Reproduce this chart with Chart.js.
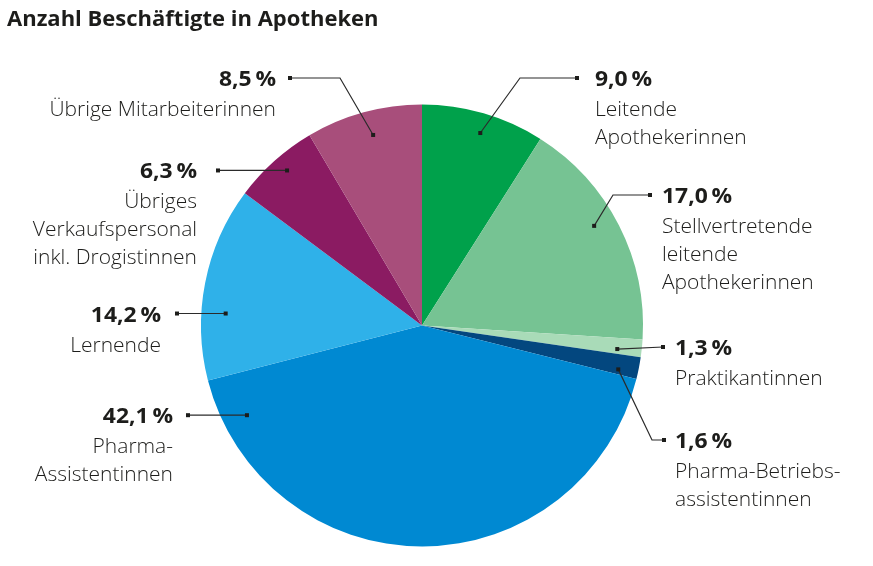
<!DOCTYPE html>
<html>
<head>
<meta charset="utf-8">
<script src="https://cdn.jsdelivr.net/npm/chart.js@4/dist/chart.umd.min.js"></script>
<style>
  html, body { margin: 0; padding: 0; background: #ffffff; }
  #wrap { position: relative; width: 873px; height: 566px; }
</style>
</head>
<body>
<div id="wrap"><canvas id="c" width="873" height="566"></canvas></div>
<script>
// ---- data ----
const title = 'Anzahl Beschäftigte in Apotheken';
const categories = [
  'Leitende Apothekerinnen',
  'Stellvertretende leitende Apothekerinnen',
  'Praktikantinnen',
  'Pharma-Betriebsassistentinnen',
  'Pharma-Assistentinnen',
  'Lernende',
  'Übriges Verkaufspersonal inkl. Drogistinnen',
  'Übrige Mitarbeiterinnen'
];
const shares = [9.0, 17.0, 1.3, 1.6, 42.1, 14.2, 6.3, 8.5];
const shareLabels = ['9,0\u2009%', '17,0\u2009%', '1,3\u2009%', '1,6\u2009%', '42,1\u2009%', '14,2\u2009%', '6,3\u2009%', '8,5\u2009%'];
const labelLines = [
  ['Leitende', 'Apothekerinnen'],
  ['Stellvertretende', 'leitende', 'Apothekerinnen'],
  ['Praktikantinnen'],
  ['Pharma-Betriebs-', 'assistentinnen'],
  ['Pharma-', 'Assistentinnen'],
  ['Lernende'],
  ['Übriges', 'Verkaufspersonal', 'inkl. Drogistinnen'],
  ['Übrige Mitarbeiterinnen']
];
const colors = ['#00a14b', '#76c393', '#a9dbb8', '#03477f', '#0089d2', '#2fb1e9', '#8b1b62', '#a84e7b'];

// ---- annotation layout (positions of labels / leader lines) ----
const layout = [
  { af: 0.52, rf: 0.91, pts: [[520, 78], [577, 78]], tx: 595, align: 'left' },
  { af: 0.45, rf: 0.90, pts: [[613, 195], [650, 195]], tx: 662, align: 'left' },
  { af: 0.70, rf: 0.89, pts: [[663, 347]], tx: 675, align: 'left' },
  { af: 0.75, rf: 0.91, pts: [[652, 440], [664, 440]], tx: 675, align: 'left' },
  { af: 0.916, rf: 0.89, pts: [[188, null]], tx: 173, align: 'right' },
  { af: 0.35, rf: 0.89, pts: [[177, null]], tx: 161, align: 'right' },
  { af: 0.54, rf: 0.93, pts: [[218, null]], tx: 197, align: 'right' },
  { af: 0.53, rf: 0.89, pts: [[340, 78], [290, 78]], tx: 276, align: 'right' }
];

const FONT = '"Open Sans", "Noto Sans", sans-serif';
const TEXT = '#1d1d1b';

function drawScaled(ctx, text, x, y, align, sx) {
  ctx.save();
  ctx.translate(x, y);
  ctx.scale(sx, 1);
  ctx.textAlign = align;
  ctx.fillText(text, 0, 0);
  ctx.restore();
}

const annotate = {
  id: 'annotate',
  afterDraw(chart) {
    const ctx = chart.ctx;
    ctx.save();
    // title
    ctx.fillStyle = TEXT;
    ctx.font = 'bold 22px ' + FONT;
    ctx.textBaseline = 'alphabetic';
    drawScaled(ctx, title, 7, 26, 'left', 1.0);

    const meta = chart.getDatasetMeta(0);
    meta.data.forEach((arc, i) => {
      const p = arc.getProps(['x', 'y', 'startAngle', 'endAngle', 'outerRadius'], true);
      const L = layout[i];
      const a = p.startAngle + (p.endAngle - p.startAngle) * L.af;
      const ax = p.x + Math.cos(a) * p.outerRadius * L.rf;
      const ay = p.y + Math.sin(a) * p.outerRadius * L.rf;
      const pts = [[ax, ay]].concat(L.pts.map(q => [q[0], q[1] === null ? ay : q[1]]));
      ctx.strokeStyle = '#2b2b2b';
      ctx.lineWidth = 1.2;
      ctx.beginPath();
      ctx.moveTo(pts[0][0], pts[0][1]);
      for (let k = 1; k < pts.length; k++) ctx.lineTo(pts[k][0], pts[k][1]);
      ctx.stroke();
      ctx.fillStyle = '#1d1d1b';
      const s = pts[0], e = pts[pts.length - 1];
      ctx.fillRect(s[0] - 2, s[1] - 2, 4, 4);
      ctx.fillRect(e[0] - 2, e[1] - 2, 4, 4);

      // texts
      const ty = e[1];
      ctx.fillStyle = TEXT;
      ctx.font = 'bold 22px ' + FONT;
      drawScaled(ctx, shareLabels[i], L.tx, ty + 8, L.align, 1.04);
      ctx.font = '300 21px ' + FONT;
      labelLines[i].forEach((line, j) => {
        const y = ty + 8 + 30 + 28 * j;
        drawScaled(ctx, line, L.tx, y, L.align, 1.0);
      });
    });
    ctx.restore();
  }
};

new Chart(document.getElementById('c'), {
  type: 'pie',
  data: {
    labels: categories,
    datasets: [{
      data: shares,
      backgroundColor: colors,
      borderWidth: 0
    }]
  },
  options: {
    responsive: false,
    animation: false,
    layout: { padding: { top: 104, bottom: 19, left: 201, right: 230 } },
    plugins: {
      legend: { display: false },
      tooltip: { enabled: false },
      title: { display: false }
    }
  },
  plugins: [annotate]
});
</script>
</body>
</html>
